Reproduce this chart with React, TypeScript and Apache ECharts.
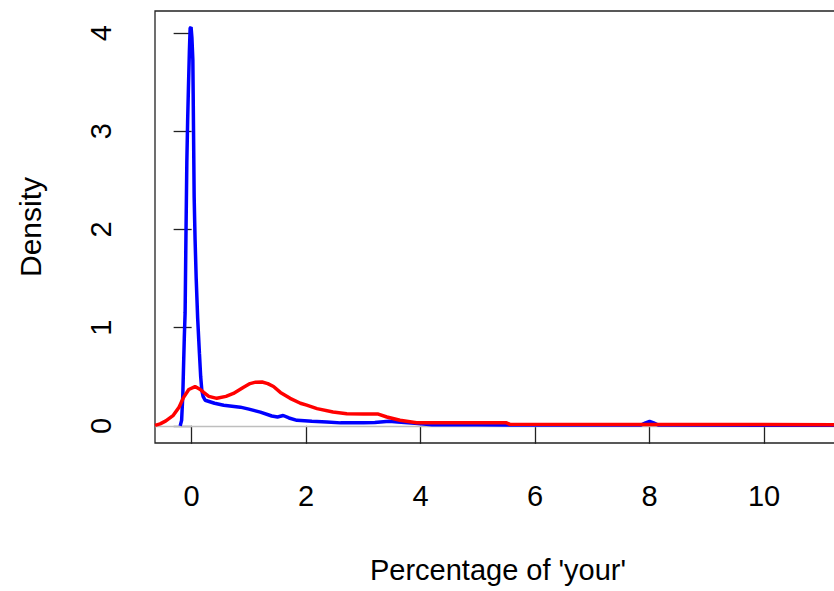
import React, { useEffect, useRef } from "react";
import * as echarts from "echarts";

const blueX = [-0.2, -0.175, -0.155, -0.143, -0.128, -0.114, -0.1, -0.084, -0.07, -0.056, -0.04, -0.026, -0.01, 0.005, 0.021, 0.033, 0.044, 0.06, 0.079, 0.105, 0.136, 0.158, 0.178, 0.2, 0.236, 0.4, 0.56, 0.85, 1.0, 1.2, 1.4, 1.5, 1.6, 1.7, 1.84, 2.1, 2.36, 2.6, 3.0, 3.2, 3.45, 3.6, 3.9, 4.2, 5, 6, 7.85, 7.93, 8.0, 8.07, 8.15, 11.6];
const blueY = [0.0, 0.056, 0.3, 0.57, 0.9, 1.15, 1.9, 2.68, 3.1, 3.44, 3.8, 4.05, 4.06, 3.95, 3.73, 3.0, 2.33, 1.9, 1.51, 1.1, 0.74, 0.5, 0.36, 0.3, 0.26, 0.23, 0.21, 0.19, 0.17, 0.14, 0.1, 0.09, 0.105, 0.08, 0.056, 0.046, 0.04, 0.03, 0.03, 0.035, 0.046, 0.04, 0.025, 0.012, 0.01, 0.008, 0.008, 0.03, 0.045, 0.03, 0.008, 0.005];

const redX = [-0.64, -0.55, -0.45, -0.32, -0.22, -0.14, -0.05, 0.06, 0.15, 0.21, 0.3, 0.44, 0.6, 0.73, 0.9, 1.02, 1.12, 1.23, 1.33, 1.43, 1.55, 1.72, 1.9, 2.01, 2.19, 2.47, 2.71, 3.0, 3.26, 3.41, 3.64, 3.93, 4.5, 5.5, 5.56, 8, 11.6];
const redY = [0.005, 0.02, 0.05, 0.107, 0.19, 0.29, 0.37, 0.4, 0.37, 0.34, 0.3, 0.28, 0.3, 0.33, 0.39, 0.43, 0.445, 0.446, 0.43, 0.4, 0.34, 0.28, 0.23, 0.21, 0.175, 0.14, 0.124, 0.12, 0.12, 0.09, 0.056, 0.032, 0.03, 0.03, 0.015, 0.013, 0.012];

const xTicks = [0, 2, 4, 6, 8, 10];
const yTicks = [0, 1, 2, 3, 4];
const xTitle = "Percentage of 'your'";
const yTitle = "Density";

const FONT = "'Liberation Sans', Arial, sans-serif";

export default function App() {
  const ref = useRef<HTMLDivElement>(null);
  useEffect(() => {
    if (!ref.current) return;
    const chart = echarts.init(ref.current, null, { renderer: "svg" });
    const pair = (xs: number[], ys: number[]) => xs.map((x, i) => [x, ys[i]]);
    chart.setOption({
      animation: false,
      backgroundColor: "#ffffff",
      grid: {
        left: 155,
        top: 11,
        width: 686,
        height: 432,
        show: true,
        borderColor: "#222",
        borderWidth: 1.3,
        backgroundColor: "transparent",
      },
      xAxis: {
        type: "value",
        min: -0.64,
        max: 11.343,
        axisLine: { show: false },
        splitLine: { show: false },
        axisTick: {
          show: true,
          length: 18,
          inside: false,
          customValues: xTicks,
          lineStyle: { color: "#222", width: 1.3 },
        },
        axisLabel: {
          customValues: xTicks,
          margin: 38,
          fontSize: 29,
          color: "#000",
          fontFamily: FONT,
        },
        name: xTitle,
        nameLocation: "middle",
        nameGap: 112,
        nameTextStyle: { fontSize: 29, color: "#000", fontFamily: FONT },
      },
      yAxis: {
        type: "value",
        min: -0.175,
        max: 4.225,
        axisLine: { show: false },
        splitLine: { show: false },
        axisTick: {
          show: true,
          length: 18,
          inside: false,
          customValues: yTicks,
          lineStyle: { color: "#222", width: 1.3 },
        },
        axisLabel: {
          customValues: yTicks,
          rotate: 90,
          margin: 40,
          fontSize: 29,
          color: "#000",
          fontFamily: FONT,
        },
        name: yTitle,
        nameLocation: "middle",
        nameRotate: 90,
        nameGap: 110,
        nameTextStyle: { fontSize: 30, color: "#000", fontFamily: FONT },
      },
      series: [
        {
          type: "line",
          data: pair(blueX, blueY),
          showSymbol: false,
          lineStyle: { color: "#0000ff", width: 3.5 },
          itemStyle: { color: "#0000ff" },
          z: 2,
          markLine: {
            silent: true,
            symbol: ["none", "none"],
            label: { show: false },
            lineStyle: { color: "#bebebe", width: 1.3, type: "solid" },
            data: [{ yAxis: 0 }],
            z: 1,
          },
        },
        {
          type: "line",
          data: pair(redX, redY),
          showSymbol: false,
          lineStyle: { color: "#ff0000", width: 3.5 },
          itemStyle: { color: "#ff0000" },
          z: 3,
        },
      ],
    });
    return () => chart.dispose();
  }, []);
  return (
    <div
      style={{ position: "fixed", left: 0, top: 0, width: 834, height: 591, overflow: "hidden", background: "#fff" }}
    >
      <div ref={ref} style={{ width: 870, height: 591 }} />
    </div>
  );
}
